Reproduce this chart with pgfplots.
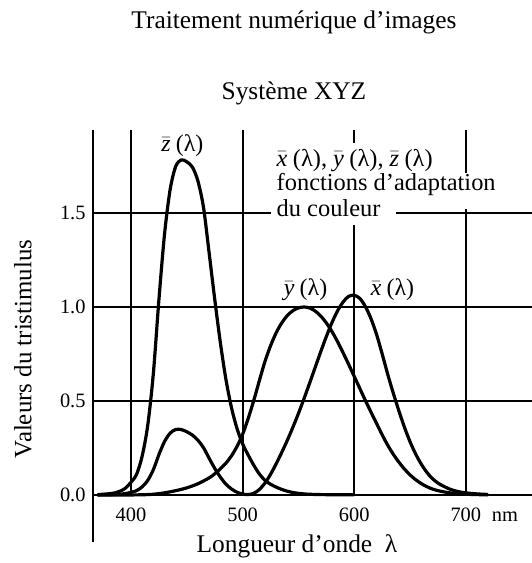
\documentclass[border=0pt]{standalone}
\usepackage{pgfplots}
\pgfplotsset{compat=1.18}
\usepackage{fontspec}
\setmainfont{Liberation Serif}
\newcommand{\bl}[1]{$\bar{\mbox{\itshape #1}}$\hspace{0.22em}(λ)}
\pgfplotstableread{
lam val
370 0.0004
380 0.0014
385 0.0022
390 0.0042
395 0.0077
400 0.0143
405 0.0232
410 0.0435
415 0.0776
420 0.1344
425 0.2148
430 0.2839
435 0.3285
440 0.3483
445 0.3481
450 0.3362
455 0.3187
460 0.2908
465 0.2511
470 0.1954
475 0.1421
480 0.0956
485 0.0580
490 0.0320
495 0.0147
500 0.0049
505 0.0024
510 0.0093
515 0.0291
520 0.0633
525 0.1096
530 0.1655
535 0.2258
540 0.2904
545 0.3597
550 0.4335
555 0.5121
560 0.5945
565 0.6784
570 0.7621
575 0.8425
580 0.9163
585 0.9786
590 1.0263
595 1.0567
600 1.0622
605 1.0456
610 1.0026
615 0.9384
620 0.8545
625 0.7514
630 0.6424
635 0.5419
640 0.4479
645 0.3608
650 0.2835
655 0.2187
660 0.1649
665 0.1212
670 0.0874
675 0.0636
680 0.0468
685 0.0329
690 0.0227
695 0.0158
700 0.0114
710 0.0058
720 0.0029
}\xbar
\pgfplotstableread{
lam val
370 0.0000
380 0.0000
390 0.0001
400 0.0004
410 0.0012
420 0.0040
430 0.0116
440 0.0230
450 0.0380
460 0.0600
470 0.0910
475 0.1126
480 0.1390
485 0.1693
490 0.2080
495 0.2586
500 0.3230
505 0.4073
510 0.5030
515 0.6082
520 0.7100
525 0.7932
530 0.8620
535 0.9149
540 0.9540
545 0.9803
550 0.9950
555 1.0000
560 0.9950
565 0.9786
570 0.9520
575 0.9154
580 0.8700
585 0.8163
590 0.7570
595 0.6949
600 0.6310
605 0.5668
610 0.5030
615 0.4412
620 0.3810
625 0.3210
630 0.2650
635 0.2170
640 0.1750
645 0.1382
650 0.1070
655 0.0816
660 0.0610
665 0.0446
670 0.0320
675 0.0232
680 0.0170
685 0.0119
690 0.0082
695 0.0057
700 0.0041
710 0.0021
720 0.0010
}\ybar
\pgfplotstableread{
lam val
370 0.0019
380 0.0065
385 0.0106
390 0.0201
395 0.0362
400 0.0679
405 0.1102
410 0.2074
415 0.3713
420 0.6456
425 1.0391
430 1.3856
435 1.6230
440 1.7471
445 1.7826
450 1.7721
455 1.7441
460 1.6692
465 1.5281
470 1.2876
475 1.0419
480 0.8130
485 0.6162
490 0.4652
495 0.3533
500 0.2720
505 0.2123
510 0.1582
515 0.1117
520 0.0783
525 0.0573
530 0.0422
535 0.0298
540 0.0203
545 0.0134
550 0.0088
555 0.0058
560 0.0039
570 0.0021
580 0.0017
600 0.0008
}\zbar
\begin{document}
\begin{tikzpicture}
\begin{axis}[
  x=1.116bp, y=188bp,
  xmin=366, xmax=759.3, ymin=-0.25, ymax=1.94,
  axis x line=middle, axis y line=left,
  hide obscured x ticks=false, hide obscured y ticks=false,
  x axis line style={-, line width=2bp},
  y axis line style={-, line width=2.2bp},
  xtick={400,500,600,700}, xticklabels={400,500,600,700},
  ytick={0,0.5,1,1.5}, yticklabels={0.0,0.5,1.0,1.5},
  major tick length=0pt,
  ticklabel style={font=\fontsize{20.5}{20.5}\selectfont},
  xticklabel style={anchor=base, yshift=-26bp},
  yticklabel style={xshift=-4bp},
  clip=false,
]
% grid (broken where the text block sits)
\draw[line width=2bp] (axis cs:366,0.5) -- (axis cs:759.3,0.5);
\draw[line width=2bp] (axis cs:366,1.0) -- (axis cs:759.3,1.0);
\draw[line width=2bp] (axis cs:366,1.5) -- (axis cs:525,1.5);
\draw[line width=2bp] (axis cs:637,1.5) -- (axis cs:759.3,1.5);
\draw[line width=2bp] (axis cs:400,0) -- (axis cs:400,1.94);
\draw[line width=2bp] (axis cs:500,0) -- (axis cs:500,1.94);
\draw[line width=2bp] (axis cs:600,0) -- (axis cs:600,1.436);
\draw[line width=2bp] (axis cs:600,1.872) -- (axis cs:600,1.94);
\draw[line width=2bp] (axis cs:700,0) -- (axis cs:700,1.52);
\draw[line width=2bp] (axis cs:700,1.713) -- (axis cs:700,1.94);
% curves
\addplot[black, line width=3.2bp, smooth, line join=round] table[x=lam,y=val] {\zbar};
\addplot[black, line width=3.2bp, smooth, line join=round] table[x=lam,y=val] {\ybar};
\addplot[black, line width=3.2bp, smooth, line join=round] table[x=lam,y=val] {\xbar};
% text block
\node[anchor=base west, inner sep=0pt, font=\fontsize{24.5}{24.5}\selectfont] at (axis cs:530.4,1.748) {\bl{x}, \bl{y}, \bl{z}};
\node[anchor=base west, inner sep=0pt, font=\fontsize{24.5}{24.5}\selectfont] at (axis cs:530.4,1.622) {fonctions d’adaptation};
\node[anchor=base west, inner sep=0pt, font=\fontsize{24.5}{24.5}\selectfont] at (axis cs:530.4,1.484) {du couleur};
% curve labels
\node[font=\fontsize{24}{24}\selectfont] at (axis cs:446,1.856) {\bl{z}};
\node[font=\fontsize{24}{24}\selectfont] at (axis cs:556.4,1.09) {\bl{y}};
\node[font=\fontsize{24}{24}\selectfont] at (axis cs:634.3,1.09) {\bl{x}};
% nm
\node[anchor=base, yshift=-26bp, font=\fontsize{20.5}{20.5}\selectfont] at (axis cs:735,0) {nm};
% titles & axis labels
\node[anchor=base, font=\fontsize{25.5}{25.5}\selectfont] at (axis cs:546,2.479) {Traitement numérique d’images};
\node[anchor=base, font=\fontsize{25.5}{25.5}\selectfont] at (axis cs:546,2.106) {Système XYZ};
\node[anchor=base, font=\fontsize{25.5}{25.5}\selectfont] at (axis cs:548.7,-0.3085) {Longueur d’onde\ \ λ};
\node[anchor=base, rotate=90, font=\fontsize{25}{25}\selectfont] at (axis cs:310.8,0.777) {Valeurs du tristimulus};
\coordinate (BL) at (axis cs:282.6,-0.3617);
\coordinate (TR) at (axis cs:759.3,2.633);
\end{axis}
\pgfresetboundingbox
\useasboundingbox (BL) rectangle (TR);
\end{tikzpicture}
\end{document}
